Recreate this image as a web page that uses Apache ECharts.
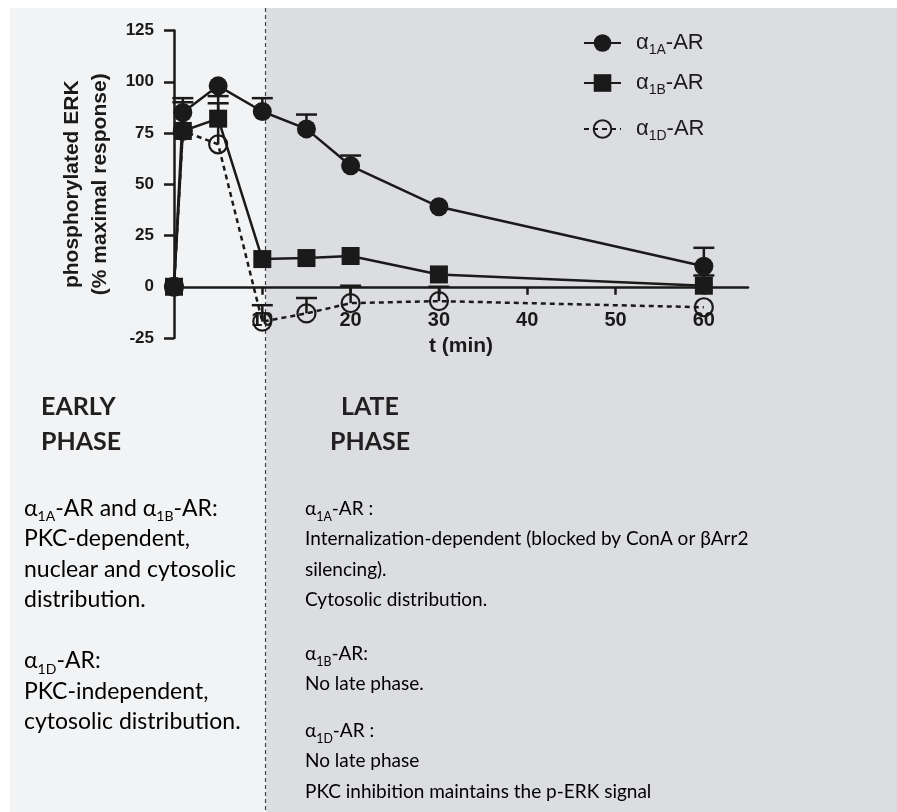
<!DOCTYPE html>
<html>
<head>
<meta charset="utf-8">
<script src="https://cdn.jsdelivr.net/npm/echarts@6/dist/echarts.min.js"></script>
<style>
  html, body { margin: 0; padding: 0; background: #ffffff; }
  #chart { width: 897px; height: 812px; }
</style>
</head>
<body>
<div id="chart"></div>
<script>
// ---- data ----
const times = [0, 1, 5, 10, 15, 20, 30, 60];
const a1A = [0, 85, 98, 85.5, 77, 59, 39, 10];
const a1AErr = [0, 7, 0, 6.5, 7, 5, 0, 9];
const a1B = [0, 76, 82, 13.5, 14, 15, 6, 0.5];
const a1BErr = [0, 14, 11, 0, 0, 0, 0, 5];
const a1D = [0, 76, 69.5, -17, -13, -8, -7, -10];
const a1DErr = [0, 0, 20, 8, 7.5, 8.5, 7, 0];
const seriesNames = ['α1A-AR', 'α1B-AR', 'α1D-AR'];
const xTicks = [10, 20, 30, 40, 50, 60];
const yName = 'phosphorylated ERK\n(% maximal response)';
const xName = 't (min)';
const earlyTitle = 'EARLY\nPHASE';
const lateTitle = 'LATE\nPHASE';
const earlyText = [
  '{a|α}{s|1A}{a|-AR and α}{s|1B}{a|-AR:}',
  '{a|PKC-dependent,}',
  '{a|nuclear and cytosolic}',
  '{a|distribution.}',
  '{a| }',
  '{a|α}{s|1D}{a|-AR:}',
  '{a|PKC-independent,}',
  '{a|cytosolic distribution.}'
];
const lateText1 = [
  '{a|α}{s|1A}{a|-AR :}',
  '{a|Internalization-dependent (blocked by ConA or βArr2}',
  '{a|silencing).}',
  '{a|Cytosolic distribution.}'
];
const lateText2 = [
  '{a|α}{s|1B}{a|-AR:}',
  '{a|No late phase.}'
];
const lateText3 = [
  '{a|α}{s|1D}{a|-AR :}',
  '{a|No late phase}',
  '{a|PKC inhibition maintains the p-ERK signal}'
];

const INK = '#1a1a1a';
const TXT = '#231f20';
const AX_FONT = 'Liberation Sans, Arial, sans-serif';
const BODY_FONT = 'Lato, sans-serif';

// layout
const GRID = { left: 174, right: 149, top: 30.5, bottom: 474 };
const Y_MIN = -25, Y_MAX = 125;
const gridH = 812 - GRID.top - GRID.bottom;
const xAxisOffset = -gridH * (0 - Y_MIN) / (Y_MAX - Y_MIN);

function pairs(ys) { return times.map((t, i) => [t, ys[i]]); }
function errData(ys, es) { return times.map((t, i) => [t, ys[i], es[i]]); }

function renderErr(params, api) {
  const t = api.value(0), v = api.value(1), e = api.value(2);
  if (!e) return null;
  const p0 = api.coord([t, v]);
  const p1 = api.coord([t, v + e]);
  const hw = 10.5;
  return {
    type: 'group',
    children: [
      { type: 'line', shape: { x1: p0[0], y1: p0[1], x2: p1[0], y2: p1[1] }, style: { stroke: INK, lineWidth: 2.5 } },
      { type: 'line', shape: { x1: p1[0] - hw, y1: p1[1], x2: p1[0] + hw, y2: p1[1] }, style: { stroke: INK, lineWidth: 2.5 } }
    ]
  };
}

function bodyRich(size, sub) {
  return {
    a: { fontFamily: BODY_FONT, fontSize: size, lineHeight: 30.5, color: TXT },
    s: { fontFamily: BODY_FONT, fontSize: sub, lineHeight: 16, verticalAlign: 'bottom', color: TXT }
  };
}
const leftRich = bodyRich(23, 14);
const rightRich = bodyRich(20, 13);
const RIGHT_SX = 0.95;

function legendFmt(name) {
  return '{f|α}{s|' + name.slice(1, 3) + '}{a|-AR}';
}
const legendRich = {
  f: { fontFamily: AX_FONT, fontSize: 22, lineHeight: 28, color: INK, padding: [0, 0, 0, 10] },
  a: { fontFamily: AX_FONT, fontSize: 22, lineHeight: 28, color: INK },
  s: { fontFamily: AX_FONT, fontSize: 14, lineHeight: 13, verticalAlign: 'bottom', color: INK }
};
function mkLegend(name, centerY) {
  return {
    data: [name], left: 583, top: centerY - 11, padding: 0,
    itemWidth: 37, itemHeight: 22, selectedMode: false,
    formatter: legendFmt, textStyle: { rich: legendRich }
  };
}

const chart = echarts.init(document.getElementById('chart'), null, { renderer: 'canvas' });
chart.setOption({
  animation: false,
  backgroundColor: '#ffffff',
  graphic: [
    { type: 'rect', z: -10, shape: { x: 10, y: 8, width: 256, height: 804 }, style: { fill: '#f2f3f5' } },
    { type: 'rect', z: -10, shape: { x: 266, y: 8, width: 631, height: 804 }, style: { fill: '#dcdde0' } },
    { type: 'line', z: -5, shape: { x1: 265.5, y1: 8, x2: 265.5, y2: 812 }, style: { stroke: '#444', lineWidth: 1.2, lineDash: [4, 3] } },
    { type: 'text', x: 41, y: 389, style: { text: earlyTitle, font: 'bold 25px Lato, sans-serif', lineHeight: 35, fill: TXT } },
    { type: 'text', x: 370, y: 389, style: { text: lateTitle, font: 'bold 25px Lato, sans-serif', lineHeight: 35, fill: TXT, align: 'center' } },
    { type: 'text', x: 24, y: 493, style: { text: earlyText.join('\n'), rich: leftRich } },
    { type: 'text', x: 305, y: 493, scaleX: RIGHT_SX, style: { text: lateText1.join('\n'), rich: rightRich } },
    { type: 'text', x: 305, y: 638, scaleX: RIGHT_SX, style: { text: lateText2.join('\n'), rich: rightRich } },
    { type: 'text', x: 305, y: 715, scaleX: RIGHT_SX, style: { text: lateText3.join('\n'), rich: rightRich } }
  ],
  legend: [
    mkLegend(seriesNames[0], 43),
    mkLegend(seriesNames[1], 83),
    mkLegend(seriesNames[2], 129)
  ],
  grid: { left: GRID.left, right: GRID.right, top: GRID.top, bottom: GRID.bottom, outerBoundsMode: 'none', containLabel: false },
  xAxis: {
    type: 'value', min: 0, max: 65, interval: 10,
    offset: xAxisOffset,
    name: xName, nameLocation: 'middle', nameGap: 49,
    nameTextStyle: { fontFamily: AX_FONT, fontWeight: 'bold', fontSize: 21, color: INK },
    axisLine: { onZero: false, lineStyle: { color: INK, width: 2.5 } },
    axisTick: { show: true, inside: false, length: 8, lineStyle: { color: INK, width: 2.5 }, customValues: xTicks },
    axisLabel: { fontFamily: AX_FONT, fontWeight: 'bold', fontSize: 20, color: INK, margin: 24, customValues: xTicks },
    splitLine: { show: false }
  },
  yAxis: {
    type: 'value', min: Y_MIN, max: Y_MAX, interval: 25,
    name: yName, nameLocation: 'middle', nameGap: 60, nameRotate: 90,
    nameTextStyle: { fontFamily: AX_FONT, fontWeight: 'bold', fontSize: 21, lineHeight: 28, color: INK, align: 'center' },
    axisLine: { show: true, onZero: false, lineStyle: { color: INK, width: 2.5 } },
    axisTick: { show: true, inside: false, length: 10, lineStyle: { color: INK, width: 2.5 } },
    axisLabel: { fontFamily: AX_FONT, fontWeight: 'bold', fontSize: 17, color: INK, margin: 20 },
    splitLine: { show: false }
  },
  series: [
    { name: 'errA', type: 'custom', z: 1, renderItem: renderErr, data: errData(a1A, a1AErr), encode: { x: 0, y: 1 } },
    { name: 'errB', type: 'custom', z: 1, renderItem: renderErr, data: errData(a1B, a1BErr), encode: { x: 0, y: 1 } },
    { name: 'errD', type: 'custom', z: 1, renderItem: renderErr, data: errData(a1D, a1DErr), encode: { x: 0, y: 1 } },
    {
      name: seriesNames[2], type: 'line', z: 2, data: pairs(a1D),
      symbol: 'circle', symbolSize: 18,
      lineStyle: { color: INK, width: 2.5, type: [5, 4] },
      itemStyle: { color: 'rgba(0,0,0,0)', borderColor: INK, borderWidth: 2.2 }
    },
    {
      name: seriesNames[1], type: 'line', z: 3, data: pairs(a1B),
      symbol: 'rect', symbolSize: 18,
      lineStyle: { color: INK, width: 2.5 },
      itemStyle: { color: INK }
    },
    {
      name: seriesNames[0], type: 'line', z: 4, data: pairs(a1A),
      symbol: 'circle', symbolSize: 19,
      lineStyle: { color: INK, width: 2.5 },
      itemStyle: { color: INK }
    }
  ]
});
</script>
</body>
</html>
